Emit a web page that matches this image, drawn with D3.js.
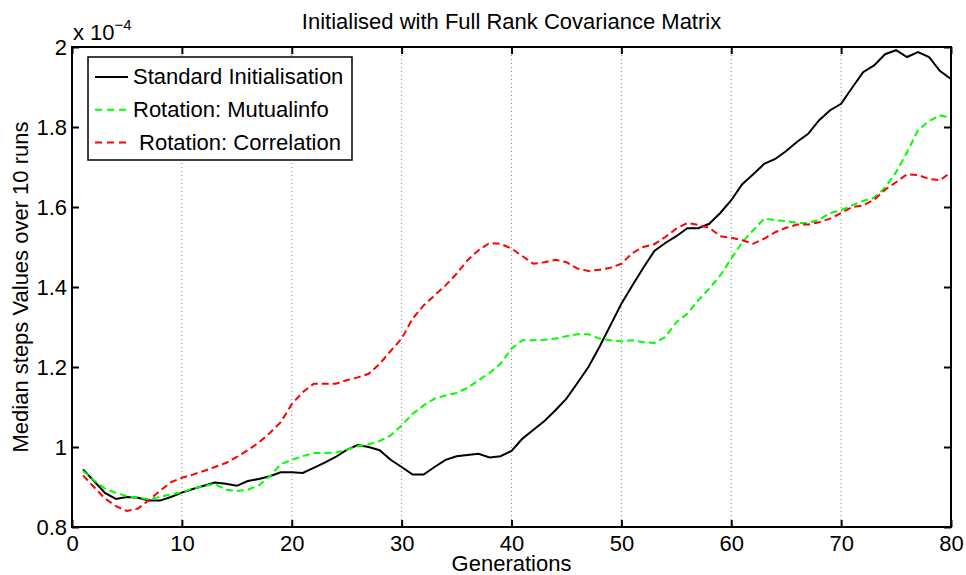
<!DOCTYPE html>
<html>
<head>
<meta charset="utf-8">
<script src="https://cdn.jsdelivr.net/npm/d3@7"></script>
<style>
  body { margin: 0; background: #fff; }
  svg { font-family: "Liberation Sans", Arial, sans-serif; }
</style>
</head>
<body>
<div id="vis"></div>
<script>
// chart data (values in units of 1e-4)
const GENERATIONS = d3.range(1, 81);
const STANDARD = [
  0.944, 0.915, 0.885, 0.870, 0.875, 0.873, 0.866, 0.866, 0.875, 0.886,
  0.895, 0.903, 0.911, 0.908, 0.903, 0.915, 0.920, 0.927, 0.937, 0.937,
  0.935, 0.948, 0.961, 0.975, 0.993, 1.005, 1.000, 0.992, 0.968, 0.950,
  0.931, 0.931, 0.950, 0.968, 0.977, 0.980, 0.983, 0.974, 0.977, 0.990,
  1.021, 1.043, 1.065, 1.092, 1.121, 1.160, 1.200, 1.250, 1.304, 1.358,
  1.404, 1.448, 1.490, 1.510, 1.527, 1.547, 1.547, 1.558, 1.585, 1.617,
  1.657, 1.682, 1.708, 1.720, 1.740, 1.763, 1.783, 1.817, 1.842, 1.858,
  1.898, 1.937, 1.954, 1.982, 1.992, 1.975, 1.987, 1.975, 1.940, 1.920
];
const MUTUALINFO = [
  0.940, 0.917, 0.896, 0.885, 0.877, 0.873, 0.870, 0.875, 0.882, 0.887,
  0.896, 0.902, 0.908, 0.893, 0.890, 0.893, 0.904, 0.927, 0.957, 0.968,
  0.977, 0.985, 0.985, 0.986, 0.993, 1.002, 1.007, 1.015, 1.029, 1.054,
  1.083, 1.104, 1.121, 1.129, 1.135, 1.148, 1.167, 1.185, 1.208, 1.246,
  1.267, 1.267, 1.268, 1.271, 1.277, 1.282, 1.282, 1.271, 1.267, 1.264,
  1.267, 1.262, 1.260, 1.275, 1.312, 1.333, 1.367, 1.396, 1.429, 1.471,
  1.512, 1.542, 1.571, 1.567, 1.565, 1.560, 1.560, 1.568, 1.585, 1.592,
  1.604, 1.615, 1.623, 1.648, 1.687, 1.737, 1.792, 1.815, 1.829, 1.823
];
const CORRELATION = [
  0.929, 0.900, 0.871, 0.852, 0.840, 0.846, 0.867, 0.890, 0.912, 0.923,
  0.931, 0.940, 0.950, 0.960, 0.975, 0.992, 1.011, 1.035, 1.062, 1.107,
  1.137, 1.158, 1.158, 1.158, 1.167, 1.174, 1.183, 1.208, 1.240, 1.271,
  1.321, 1.354, 1.379, 1.404, 1.433, 1.467, 1.492, 1.510, 1.508, 1.496,
  1.477, 1.458, 1.462, 1.468, 1.462, 1.446, 1.440, 1.443, 1.448, 1.458,
  1.485, 1.500, 1.507, 1.525, 1.546, 1.560, 1.555, 1.548, 1.527, 1.523,
  1.517, 1.508, 1.521, 1.537, 1.548, 1.556, 1.556, 1.562, 1.571, 1.585,
  1.600, 1.604, 1.618, 1.643, 1.662, 1.682, 1.680, 1.670, 1.667, 1.687
];
const X_TICKS = [0, 10, 20, 30, 40, 50, 60, 70, 80];
const Y_TICKS = [0.8, 1, 1.2, 1.4, 1.6, 1.8, 2];
const SERIES_NAMES = ["Standard Initialisation", "Rotation: Mutualinfo", " Rotation: Correlation"];
const SERIES_COLORS = ["#000000", "#00ff00", "#ff0000"];

const FRAME_WIDTH = 966;
const FRAME_HEIGHT = 575;
const MARGINS = {left: 72, right: 15, top: 47, bottom: 48};
const VIS_WIDTH = FRAME_WIDTH - MARGINS.left - MARGINS.right;
const VIS_HEIGHT = FRAME_HEIGHT - MARGINS.top - MARGINS.bottom;
const FONT = "22px";

const FRAME = d3.select("#vis")
  .append("svg")
    .attr("width", FRAME_WIDTH)
    .attr("height", FRAME_HEIGHT);

const X_SCALE = d3.scaleLinear().domain([0, 80]).range([0, VIS_WIDTH]);
const Y_SCALE = d3.scaleLinear().domain([0.8, 2]).range([VIS_HEIGHT, 0]);

const PLOT = FRAME.append("g")
  .attr("transform", "translate(" + MARGINS.left + "," + MARGINS.top + ")");

// vertical dotted grid
PLOT.selectAll(".grid")
  .data(X_TICKS.slice(1, -1))
  .enter()
  .append("line")
    .attr("x1", d => X_SCALE(d))
    .attr("x2", d => X_SCALE(d))
    .attr("y1", 0)
    .attr("y2", VIS_HEIGHT)
    .attr("stroke", "#888")
    .attr("stroke-width", 1)
    .attr("stroke-dasharray", "1,3");

// axes (ticks pointing inward, MATLAB box style)
const TICK = 7;
PLOT.append("g")
  .attr("transform", "translate(0," + VIS_HEIGHT + ")")
  .call(d3.axisBottom(X_SCALE).tickValues(X_TICKS).tickSizeInner(-TICK).tickSizeOuter(0).tickPadding(8))
  .call(g => g.select(".domain").remove());
PLOT.append("g")
  .call(d3.axisTop(X_SCALE).tickValues(X_TICKS).tickSizeInner(-TICK).tickSizeOuter(0).tickFormat(""))
  .call(g => g.select(".domain").remove());
PLOT.append("g")
  .call(d3.axisLeft(Y_SCALE).tickValues(Y_TICKS).tickSizeInner(-TICK).tickSizeOuter(0).tickPadding(5).tickFormat(d3.format("")))
  .call(g => g.select(".domain").remove());
PLOT.append("g")
  .attr("transform", "translate(" + VIS_WIDTH + ",0)")
  .call(d3.axisRight(Y_SCALE).tickValues(Y_TICKS).tickSizeInner(-TICK).tickSizeOuter(0).tickFormat(""))
  .call(g => g.select(".domain").remove());

PLOT.selectAll(".tick line").attr("stroke", "#000").attr("stroke-width", 2);
PLOT.selectAll(".tick text").attr("font-size", FONT).attr("fill", "#000")
  .attr("font-family", "Liberation Sans, Arial, sans-serif");

// lines
const LINE = d3.line()
  .x((d, i) => X_SCALE(GENERATIONS[i]))
  .y(d => Y_SCALE(d));

const ALL_SERIES = [STANDARD, MUTUALINFO, CORRELATION];
PLOT.selectAll(".series")
  .data(ALL_SERIES)
  .enter()
  .append("path")
    .attr("d", d => LINE(d))
    .attr("fill", "none")
    .attr("stroke", (d, i) => SERIES_COLORS[i])
    .attr("stroke-width", 2)
    .attr("stroke-dasharray", (d, i) => i === 0 ? null : "7,4");

// box
PLOT.append("rect")
  .attr("width", VIS_WIDTH)
  .attr("height", VIS_HEIGHT)
  .attr("fill", "none")
  .attr("stroke", "#000")
  .attr("stroke-width", 2);

// legend
const LEGEND = PLOT.append("g").attr("transform", "translate(16,10)");
LEGEND.append("rect")
  .attr("width", 264)
  .attr("height", 103)
  .attr("fill", "#fff")
  .attr("stroke", "#000")
  .attr("stroke-width", 1.5);
SERIES_NAMES.forEach((name, i) => {
  const y = 20 + i * 32.8;
  LEGEND.append("line")
    .attr("x1", 7).attr("x2", 40)
    .attr("y1", y).attr("y2", y)
    .attr("stroke", SERIES_COLORS[i])
    .attr("stroke-width", 2)
    .attr("stroke-dasharray", i === 0 ? null : "7,5");
  LEGEND.append("text")
    .attr("x", 45)
    .attr("y", y + 7)
    .attr("font-size", FONT)
    .attr("xml:space", "preserve")
    .style("white-space", "pre")
    .text(name);
});

// titles and labels
FRAME.append("text")
  .attr("x", MARGINS.left + VIS_WIDTH / 2)
  .attr("y", 29)
  .attr("text-anchor", "middle")
  .attr("font-size", FONT)
  .text("Initialised with Full Rank Covariance Matrix");

FRAME.append("text")
  .attr("x", MARGINS.left + VIS_WIDTH / 2)
  .attr("y", 571)
  .attr("text-anchor", "middle")
  .attr("font-size", FONT)
  .text("Generations");

FRAME.append("text")
  .attr("transform", "translate(28," + (MARGINS.top + VIS_HEIGHT / 2) + ") rotate(-90)")
  .attr("text-anchor", "middle")
  .attr("font-size", FONT)
  .text("Median steps Values over 10 runs");

const EXP = FRAME.append("text")
  .attr("x", 73)
  .attr("y", 40)
  .attr("font-size", FONT);
EXP.append("tspan").text("x 10");
EXP.append("tspan").attr("dy", -10).attr("font-size", "15px").text("\u22124");
</script>
</body>
</html>
